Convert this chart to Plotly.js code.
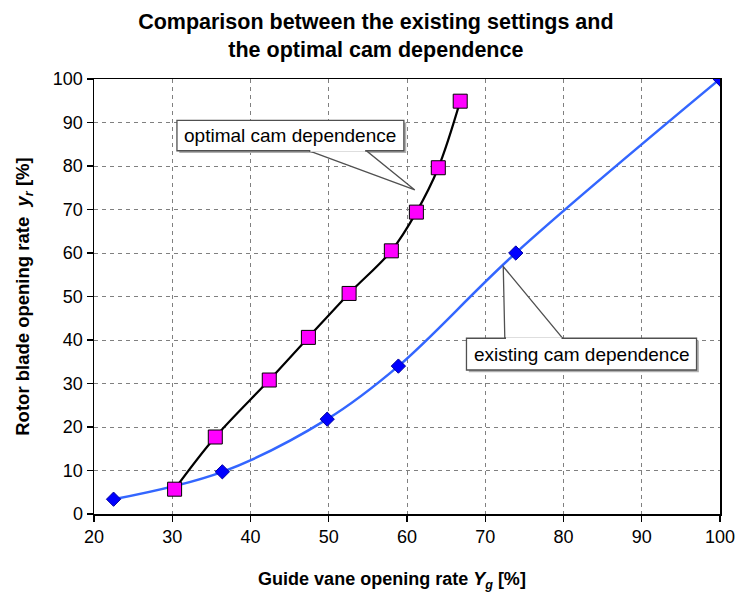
<!DOCTYPE html>
<html>
<head>
<meta charset="utf-8">
<script src="https://cdn.plot.ly/plotly-3.0.1.min.js"></script>
<style>html,body{margin:0;padding:0;background:#fff;}#chart{width:737px;height:596px;}</style>
</head>
<body>
<div id="chart"></div>
<script>
// Existing cam dependence (blue diamonds)
const existingX = [22.5, 36.4, 49.8, 58.9, 73.9, 100];
const existingY = [3.4, 9.7, 21.8, 34.0, 60.0, 100];
// Optimal cam dependence (magenta squares)
const optimalX = [30.3, 35.5, 42.4, 47.4, 52.6, 58.0, 61.2, 64.0, 66.8];
const optimalY = [5.7, 17.7, 30.8, 40.6, 50.7, 60.5, 69.4, 79.6, 94.9];
const xTicks = [20, 30, 40, 50, 60, 70, 80, 90, 100];
const yTicks = [0, 10, 20, 30, 40, 50, 60, 70, 80, 90, 100];
// Callout labels
const optLabel = {text: 'optimal cam dependence', box: [30.6, 59.6, 83.5, 90.5], base: [47.5, 54.8], tip: [61.0, 74.5]};
const exiLabel = {text: 'existing cam dependence', box: [67.6, 97.0, 33.1, 40.4], base: [72.5, 79.9], tip: [72.3, 56.9]};

const FONT = 'Liberation Sans, Arial, sans-serif';

const traces = [
  {
    x: existingX, y: existingY, mode: 'lines+markers', type: 'scatter',
    line: {color: '#3366ff', width: 2.5, shape: 'spline', smoothing: 1},
    marker: {symbol: 'diamond', size: 11, color: '#0000ff', line: {color: '#0000a0', width: 1}},
    name: 'existing', hoverinfo: 'x+y'
  },
  {
    x: optimalX, y: optimalY, mode: 'lines', type: 'scatter',
    line: {color: '#000000', width: 2.2, shape: 'spline', smoothing: 1},
    name: 'optimal-line', hoverinfo: 'skip'
  },
  {
    x: optimalX, y: optimalY, mode: 'markers', type: 'scatter',
    marker: {symbol: 'square', size: 14, color: '#ff00ff', line: {color: '#000000', width: 1}},
    name: 'optimal', hoverinfo: 'x+y'
  }
];

function callout(lbl, up) {
  const [x0, x1, y0, y1] = lbl.box;
  const yEdge = up ? y0 : y1; // edge where pointer attaches
  const shapes = [];
  // shadow
  shapes.push({type: 'rect', xref: 'x', yref: 'y', x0: x0 + 0.3, x1: x1 + 0.3, y0: y0 - 0.5, y1: y1 - 0.5,
    line: {width: 0}, fillcolor: '#b0b0b0', layer: 'above'});
  // pointer triangle
  shapes.push({type: 'path', xref: 'x', yref: 'y',
    path: `M ${lbl.base[0]} ${yEdge} L ${lbl.tip[0]} ${lbl.tip[1]} L ${lbl.base[1]} ${yEdge} Z`,
    line: {color: '#505050', width: 1.3}, fillcolor: '#ffffff', layer: 'above'});
  // box
  shapes.push({type: 'rect', xref: 'x', yref: 'y', x0: x0, x1: x1, y0: y0, y1: y1,
    line: {color: '#505050', width: 1.3}, fillcolor: '#ffffff', layer: 'above'});
  // cover the box edge between the pointer bases
  shapes.push({type: 'line', xref: 'x', yref: 'y', x0: lbl.base[0] + 0.15, x1: lbl.base[1] - 0.15, y0: yEdge, y1: yEdge,
    line: {color: '#ffffff', width: 2}, layer: 'above'});
  return shapes;
}

const shapes = [].concat(callout(optLabel, true), callout(exiLabel, false));

const annotations = [
  {x: (optLabel.box[0] + optLabel.box[1]) / 2, y: (optLabel.box[2] + optLabel.box[3]) / 2, xref: 'x', yref: 'y',
   text: optLabel.text, showarrow: false, font: {family: FONT, size: 19, color: '#000'}},
  {x: (exiLabel.box[0] + exiLabel.box[1]) / 2, y: (exiLabel.box[2] + exiLabel.box[3]) / 2, xref: 'x', yref: 'y',
   text: exiLabel.text, showarrow: false, font: {family: FONT, size: 19, color: '#000'}}
];

const layout = {
  width: 737, height: 596,
  margin: {l: 93.5, r: 16.5, t: 79, b: 82},
  paper_bgcolor: '#ffffff', plot_bgcolor: '#ffffff',
  showlegend: false,
  font: {family: FONT, size: 18, color: '#000'},
  title: {
    text: '<b>Comparison between the existing settings and<br>the optimal cam dependence</b>',
    font: {family: FONT, size: 21.5, color: '#000'},
    x: 0.51, xanchor: 'center', xref: 'container', yref: 'container', y: 0.952, yanchor: 'middle'
  },
  xaxis: {
    range: [20, 100], tickvals: xTicks, ticktext: xTicks.map(String),
    showgrid: true, gridcolor: '#808080', griddash: '4px,4px', gridwidth: 1,
    showline: true, linecolor: '#000', linewidth: 1.5, mirror: true,
    ticks: 'outside', ticklen: 6, tickcolor: '#000', tickwidth: 1.2,
    zeroline: false, tickfont: {family: FONT, size: 18, color: '#000'},
    title: {text: '<b>Guide vane opening rate <i>Y<sub>g</sub></i> [%]</b>&nbsp;&nbsp;&nbsp;&nbsp;&nbsp;&nbsp;', font: {family: FONT, size: 18, color: '#000'}, standoff: 26}
  },
  yaxis: {
    range: [0, 100], tickvals: yTicks, ticktext: yTicks.map(String),
    showgrid: true, gridcolor: '#808080', griddash: '4px,4px', gridwidth: 1,
    showline: true, linecolor: '#000', linewidth: 1.5, mirror: true,
    ticks: 'outside', ticklen: 6, tickcolor: '#000', tickwidth: 1.2,
    zeroline: false, tickfont: {family: FONT, size: 18, color: '#000'},
    title: {text: '<b>Rotor blade opening rate  <i>y<sub>r</sub></i> [%]</b>', font: {family: FONT, size: 18.5, color: '#000'}, standoff: 18}
  },
  shapes: shapes,
  annotations: annotations
};

Plotly.newPlot('chart', traces, layout, {displayModeBar: false, staticPlot: true});
</script>
</body>
</html>
